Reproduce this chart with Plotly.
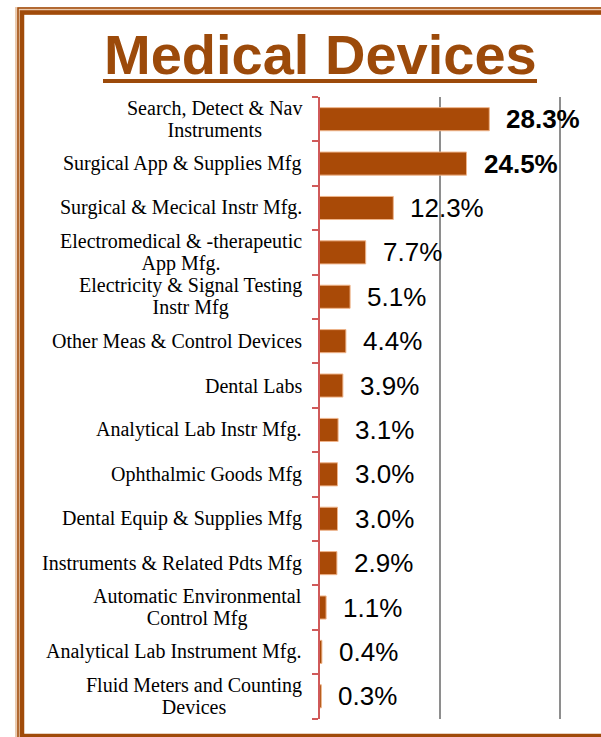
import plotly.graph_objects as go

categories = [
    "Search, Detect & Nav<br>Instruments",
    "Surgical App & Supplies Mfg",
    "Surgical & Mecical Instr Mfg.",
    "Electromedical & -therapeutic<br>App Mfg.",
    "Electricity & Signal Testing<br>Instr Mfg",
    "Other Meas & Control Devices",
    "Dental Labs",
    "Analytical Lab Instr Mfg.",
    "Ophthalmic Goods Mfg",
    "Dental Equip & Supplies Mfg",
    "Instruments & Related Pdts Mfg",
    "Automatic Environmental<br>Control Mfg",
    "Analytical Lab Instrument Mfg.",
    "Fluid Meters and Counting<br>Devices",
]
values = [28.3, 24.5, 12.3, 7.7, 5.1, 4.4, 3.9, 3.1, 3.0, 3.0, 2.9, 1.1, 0.4, 0.3]
value_labels = ["28.3%", "24.5%", "12.3%", "7.7%", "5.1%", "4.4%", "3.9%", "3.1%",
                "3.0%", "3.0%", "2.9%", "1.1%", "0.4%", "0.3%"]
bold_labels = [True, True] + [False] * 12
grid_ticks = [20, 40]
title_text = "Medical Devices"

W, H = 601, 737
def px(x):
    return x / W
def py(y):
    return 1 - y / H

BROWN = "#A04B0A"
BAR = "#A94A07"
RED = "#D05A5A"

ids = list(range(len(categories)))

fig = go.Figure()
fig.add_trace(go.Bar(
    x=values, y=ids, orientation="h",
    marker=dict(color=BAR, line=dict(color="#EFB48A", width=1)),
    width=0.52, hoverinfo="skip",
))

annotations = []
for i, cat in enumerate(categories):
    lines = cat.split("<br>")
    txt = "<br>".join(f"<span style='font-size:20px'>{ln}</span>" for ln in lines)
    annotations.append(dict(
        x=px(304), xref="paper", y=i, yref="y", xanchor="right", yanchor="middle",
        text=txt, align="center", showarrow=False,
        font=dict(family="Liberation Serif", size=17.3, color="#000000"),
    ))
for i, (v, lab, b) in enumerate(zip(values, value_labels, bold_labels)):
    annotations.append(dict(
        x=v, xref="x", y=i, yref="y", xanchor="left", yanchor="middle",
        xshift=15, text=f"<b>{lab}</b>" if b else lab, showarrow=False,
        font=dict(family="Liberation Sans", size=26, color="#000000"),
    ))
annotations.append(dict(
    x=px(320), xref="paper", y=py(55), yref="paper", xanchor="center", yanchor="middle",
    text=f"<b>{title_text}</b>", showarrow=False,
    font=dict(family="Liberation Sans", size=56, color="#9C4A0A"),
))

shapes = [
    # frame: peach band, thin outer line, thick inner line
    dict(type="rect", xref="paper", yref="paper", x0=px(19), x1=px(640), y0=py(11), y1=py(740),
         line=dict(color="#EACBB0", width=8)),
    dict(type="rect", xref="paper", yref="paper", x0=px(18), x1=px(640), y0=py(8), y1=py(741.5),
         line=dict(color=BROWN, width=1.5)),
    dict(type="rect", xref="paper", yref="paper", x0=px(22), x1=px(640), y0=py(12.5), y1=py(736),
         line=dict(color=BROWN, width=4.5)),
    # title underline
    dict(type="line", xref="paper", yref="paper", x0=px(103), x1=px(537), y0=py(81), y1=py(81),
         line=dict(color="#9C4A0A", width=4)),
]

fig.update_layout(
    width=W, height=H,
    margin=dict(l=0, r=0, t=0, b=0),
    paper_bgcolor="white", plot_bgcolor="white",
    showlegend=False,
    xaxis=dict(domain=[px(319.5), 1], range=[0, (W - 319.5) / 6.0],
               tickvals=grid_ticks, showticklabels=False, showgrid=True,
               gridcolor="#8E8E8E", gridwidth=2, zeroline=False, showline=False, ticks=""),
    yaxis=dict(domain=[py(718.5), py(97)], range=[len(categories) - 0.5, -0.5],
               showticklabels=False, showgrid=False, zeroline=False,
               showline=True, linecolor=RED, linewidth=2,
               ticks="outside", ticklen=6, tickwidth=2, tickcolor=RED),
    annotations=annotations,
    shapes=shapes,
    bargap=0.48,
)

# tick marks at category boundaries
fig.update_yaxes(tickvals=[i - 0.5 for i in range(len(categories) + 1)])

fig.write_html("out.html", config={"displayModeBar": False, "staticPlot": True},
               post_script="document.body.style.margin='0';document.body.style.overflow='hidden';")
